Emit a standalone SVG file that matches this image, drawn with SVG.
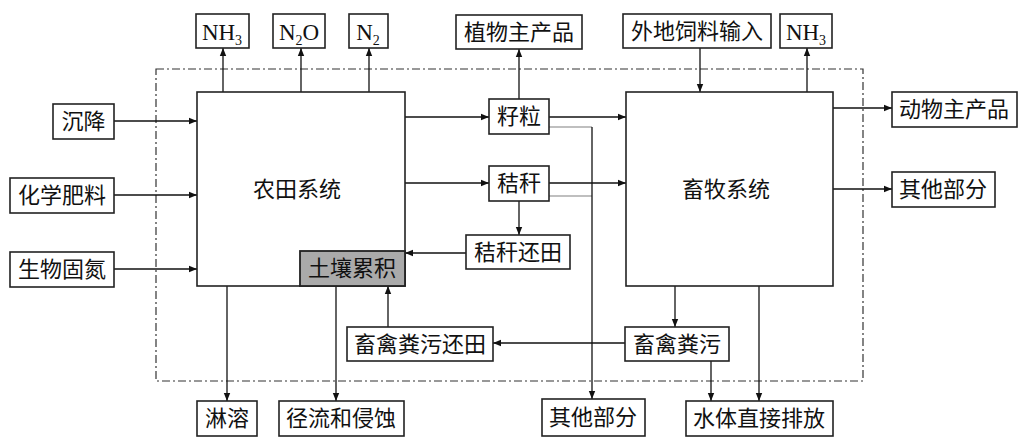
<svg xmlns="http://www.w3.org/2000/svg" width="1026" height="443" viewBox="0 0 1026 443">
<defs>
<marker id="ah" viewBox="0 0 10 10" refX="10" refY="5" markerWidth="8" markerHeight="8" markerUnits="userSpaceOnUse" orient="auto">
<path d="M0,1 L10,5 L0,9 z" fill="#111"/>
</marker>
</defs>
<style>
.b{fill:#fff;stroke:#222;stroke-width:1.6}
.g{fill:#aaa;stroke:#222;stroke-width:1.8}
.t{font-family:"Noto Sans CJK SC","Noto Sans CJK JP",sans-serif;font-size:22px;fill:#111;text-anchor:middle;font-weight:400}
.s{font-family:"Liberation Serif",serif;font-size:23px;fill:#111;text-anchor:middle}
.sub{font-size:14px}
.c{fill:none;stroke:#111;stroke-width:1.3}
.a{marker-end:url(#ah)}
.lg{fill:none;stroke:#aaa;stroke-width:1.3}
.d{fill:none;stroke:#333;stroke-width:1.2;stroke-dasharray:8 3 2 3}
</style>
<rect class="d" x="156" y="69" width="707" height="312"/>
<g id="connectors">
<path class="c a" d="M223,92 V48"/>
<path class="c a" d="M301,92 V48"/>
<path class="c a" d="M369,92 V48"/>
<path class="c a" d="M114,121 H197"/>
<path class="c a" d="M114,195 H197"/>
<path class="c a" d="M114,269 H197"/>
<path class="c a" d="M405,117 H489"/>
<path class="c a" d="M549,117 H626"/>
<path class="c a" d="M519,99 V49"/>
<path class="c a" d="M405,183 H489"/>
<path class="c a" d="M549,183 H626"/>
<path class="c a" d="M519,201 V235"/>
<path class="c a" d="M466,253 H405"/>
<path class="c a" d="M700,48 V92"/>
<path class="c a" d="M807,92 V48"/>
<path class="c a" d="M833,108 H892"/>
<path class="c a" d="M833,189 H892"/>
<path class="c a" d="M675,286 V327"/>
<path class="c a" d="M759,286 V401"/>
<path class="c a" d="M625,343 H493"/>
<path class="c a" d="M388,327 V286"/>
<path class="c a" d="M711,361 V401"/>
<path class="c a" d="M227,286 V401"/>
<path class="c a" d="M336,286 V401"/>
<path class="lg" d="M549,127 H592"/>
<path class="lg" d="M549,196 H592"/>
<path class="c a" d="M592,127 V399"/>
</g>
<g id="nh3-left"><rect class="b" x="196" y="14" width="53" height="34"/><text class="s" x="222" y="40">NH<tspan class="sub" dy="5">3</tspan></text></g>
<g id="n2o"><rect class="b" x="273" y="14" width="52" height="34"/><text class="s" x="299" y="40">N<tspan class="sub" dy="5">2</tspan><tspan dy="-5">O</tspan></text></g>
<g id="n2"><rect class="b" x="349" y="14" width="39" height="34"/><text class="s" x="368" y="40">N<tspan class="sub" dy="5">2</tspan></text></g>
<g id="plant-product"><rect class="b" x="456" y="15" width="126" height="34"/><text class="t" x="519" y="40">植物主产品</text></g>
<g id="feed-input"><rect class="b" x="623" y="14" width="148" height="34"/><text class="t" x="697" y="39">外地饲料输入</text></g>
<g id="nh3-right"><rect class="b" x="780" y="14" width="52" height="34"/><text class="s" x="806" y="40">NH<tspan class="sub" dy="5">3</tspan></text></g>
<g id="deposition"><rect class="b" x="53" y="104" width="61" height="35"/><text class="t" x="83.5" y="129">沉降</text></g>
<g id="fertilizer"><rect class="b" x="10" y="178" width="104" height="35"/><text class="t" x="62" y="203">化学肥料</text></g>
<g id="fixation"><rect class="b" x="10" y="252" width="104" height="35"/><text class="t" x="62" y="277">生物固氮</text></g>
<g id="farm"><rect class="b" x="197" y="92" width="208" height="194"/><text class="t" x="297" y="197">农田系统</text></g>
<g id="soil"><rect class="g" x="300" y="251" width="105" height="35"/><text class="t" x="352" y="276">土壤累积</text></g>
<g id="grain"><rect class="b" x="489" y="99" width="60" height="35"/><text class="t" x="519" y="124">籽粒</text></g>
<g id="straw"><rect class="b" x="489" y="166" width="60" height="35"/><text class="t" x="519" y="191">秸秆</text></g>
<g id="straw-return"><rect class="b" x="466" y="235" width="104" height="34"/><text class="t" x="518" y="260">秸秆还田</text></g>
<g id="livestock"><rect class="b" x="626" y="92" width="207" height="194"/><text class="t" x="726" y="197">畜牧系统</text></g>
<g id="animal-product"><rect class="b" x="892" y="92" width="125" height="35"/><text class="t" x="954" y="117">动物主产品</text></g>
<g id="other-right"><rect class="b" x="892" y="172" width="103" height="35"/><text class="t" x="943" y="197">其他部分</text></g>
<g id="manure-return"><rect class="b" x="347" y="327" width="146" height="34"/><text class="t" x="420" y="352">畜禽粪污还田</text></g>
<g id="manure"><rect class="b" x="625" y="327" width="104" height="34"/><text class="t" x="677" y="352">畜禽粪污</text></g>
<g id="leaching"><rect class="b" x="197" y="401" width="60" height="35"/><text class="t" x="227" y="426">淋溶</text></g>
<g id="runoff"><rect class="b" x="279" y="401" width="125" height="35"/><text class="t" x="341" y="426">径流和侵蚀</text></g>
<g id="other-bottom"><rect class="b" x="542" y="399" width="103" height="37"/><text class="t" x="593" y="425">其他部分</text></g>
<g id="water-discharge"><rect class="b" x="686" y="401" width="147" height="35"/><text class="t" x="759" y="426">水体直接排放</text></g>
</svg>
